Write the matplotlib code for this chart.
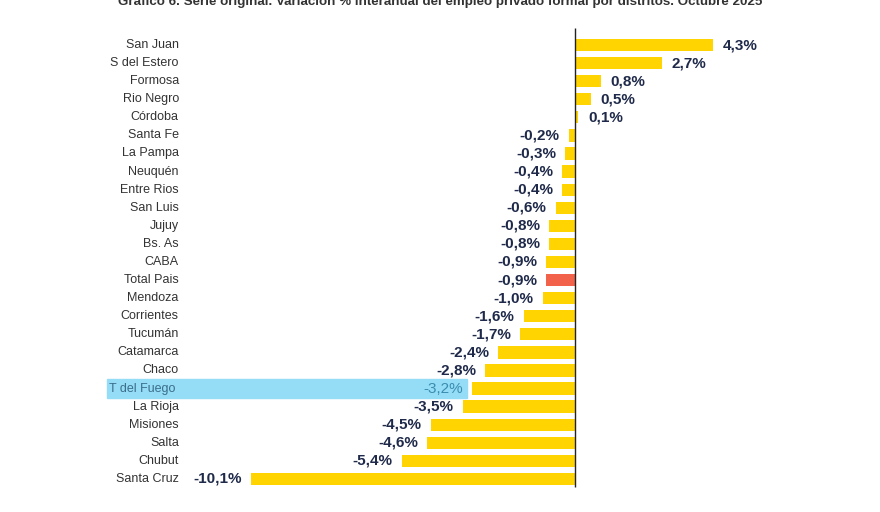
import matplotlib.pyplot as plt

plt.rcParams['font.family'] = ['Liberation Sans', 'DejaVu Sans']

# --- datos ---
distritos = ["San Juan", "S del Estero", "Formosa", "Rio Negro", "Córdoba",
             "Santa Fe", "La Pampa", "Neuquén", "Entre Rios", "San Luis",
             "Jujuy", "Bs. As", "CABA", "Total Pais", "Mendoza", "Corrientes",
             "Tucumán", "Catamarca", "Chaco", "T del Fuego", "La Rioja",
             "Misiones", "Salta", "Chubut", "Santa Cruz"]
variacion = [4.3, 2.7, 0.8, 0.5, 0.1, -0.2, -0.3, -0.4, -0.4, -0.6,
             -0.8, -0.8, -0.9, -0.9, -1.0, -1.6, -1.7, -2.4, -2.8, -3.2,
             -3.5, -4.5, -4.6, -5.4, -10.1]
total = "Total Pais"
resaltado = "T del Fuego"

amarillo = "#FFD400"
rojo = "#F2624A"
azul_claro = "#95DDF6"
texto_val = "#1F2A4A"
texto_cat = "#333333"

fig = plt.figure(figsize=(8.8, 5.12), dpi=100)
ax = fig.add_axes([0, 0, 1, 1])
ax.set_xlim(-17.91, 9.50)
ax.set_ylim(25.83, -2.49)
ax.axis("off")

pos = list(range(len(distritos)))
colores = [rojo if d == total else amarillo for d in distritos]
ax.barh(pos, variacion, height=0.68, color=colores, zorder=2)
ax.vlines(0, -0.94, 24.45, color="#222222", lw=1.0, zorder=3)

for i, (d, v) in enumerate(zip(distritos, variacion)):
    txt = f"{v:.1f}%".replace(".", ",")
    if d == resaltado:
        ax.add_patch(plt.Rectangle((-14.58, i - 0.5), 11.22, 1.0,
                                   color=azul_claro, zorder=1))
        ax.annotate(txt, (v, i), xytext=(-6.5, 0), textcoords="offset points",
                    ha="right", va="center", fontsize=11, color="#3A8DB0",
                    zorder=4)
        ax.text(-14.5, i, d, ha="left", va="center", fontsize=9,
                color="#3B6E8A", zorder=4)
        continue
    if v >= 0:
        ax.annotate(txt, (v, i), xytext=(7, 0), textcoords="offset points",
                    ha="left", va="center", fontsize=11, fontweight="bold",
                    color=texto_val)
    else:
        ax.annotate(txt, (v, i), xytext=(-6.5, 0), textcoords="offset points",
                    ha="right", va="center", fontsize=11, fontweight="bold",
                    color=texto_val)
    ax.text(-12.34, i, d, ha="right", va="center", fontsize=9, color=texto_cat)

# titulo (cortado arriba, como en el original)
fig.text(0.5, 0.996, "Gráfico 6. Serie original. Variación % interanual del empleo "
         "privado formal por distritos. Octubre 2025",
         ha="center", va="center", fontsize=9.6, fontweight="bold", color="#333333")

fig.savefig("out.png", dpi=100)
